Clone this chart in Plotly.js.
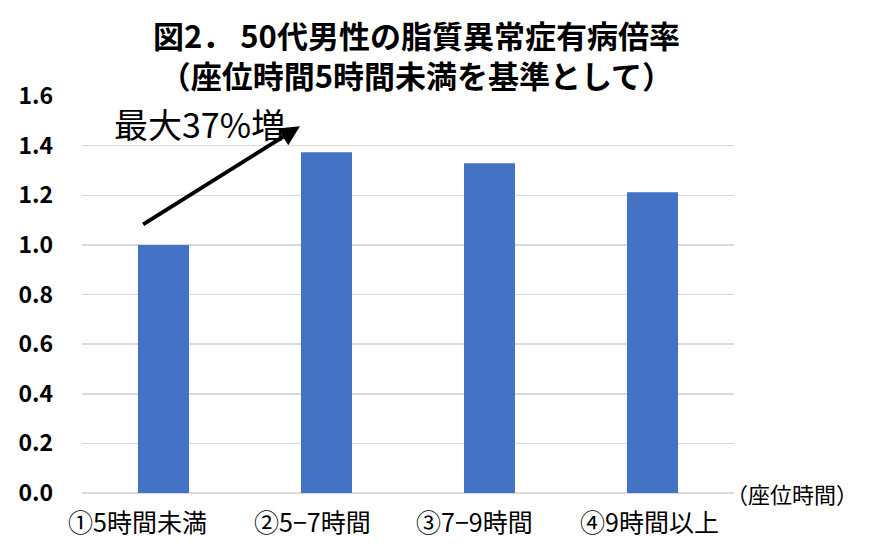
<!DOCTYPE html>
<html>
<head>
<meta charset="utf-8">
<script src="https://cdn.plot.ly/plotly-3.0.1.min.js"></script>
<style>html,body{margin:0;padding:0;background:#fff;}#chart{width:877px;height:552px;}</style>
</head>
<body>
<div id="chart"></div>
<script>
const categories = ["①5時間未満", "②5−7時間", "③7−9時間", "④9時間以上"];
const ratios = [1.0, 1.373, 1.329, 1.212];
const yTicks = [0, 0.2, 0.4, 0.6, 0.8, 1.0, 1.2, 1.4, 1.6];
const titleText = "図2． 50代男性の脂質異常症有病倍率<br>（座位時間5時間未満を基準として）";
const noteText = "最大37%増";
const unitText = "（座位時間）";

const JP = "Noto Sans CJK JP";
// horizontal offsets (px) of category labels as placed in the reference
const labelShift = [-26, -14, -15, -3];

const data = [{
  type: "bar",
  x: categories,
  y: ratios,
  marker: {color: "#4472c4"},
  hoverinfo: "skip"
}];

const annotations = [
  {
    x: 0.513, y: 1, xref: "paper", yref: "paper", yshift: 42,
    text: titleText, showarrow: false, xanchor: "center", yanchor: "middle", align: "center",
    font: {family: JP, size: 31, color: "#000", weight: "bold"}
  },
  {
    x: 0.837, y: 1.478, xref: "x", yref: "y",
    ax: -0.134, ay: 1.079, axref: "x", ayref: "y",
    text: "", showarrow: true,
    arrowhead: 2, arrowsize: 1, arrowwidth: 4, arrowcolor: "#000"
  },
  {
    x: 0.218, y: 1.49, xref: "x", yref: "y",
    text: noteText, showarrow: false,
    xanchor: "center", yanchor: "middle",
    font: {family: JP, size: 34, color: "#000"}
  },
  {
    x: 1, y: 0, xref: "paper", yref: "paper",
    text: unitText, showarrow: false,
    xanchor: "left", yanchor: "middle", xshift: -10,
    font: {family: JP, size: 22, color: "#000"}
  }
];

categories.forEach((c, i) => {
  annotations.push({
    x: c, y: 0, xref: "x", yref: "paper",
    text: c, showarrow: false,
    xanchor: "center", yanchor: "middle",
    xshift: labelShift[i], yshift: -28,
    font: {family: JP, size: 25, color: "#000"}
  });
});

const layout = {
  width: 877, height: 552,
  margin: {l: 82, r: 143, t: 96, b: 59},
  paper_bgcolor: "#fff", plot_bgcolor: "#fff",
  showlegend: false,
  bargap: 0.687,
  xaxis: {
    type: "category",
    range: [-0.5, 3.5],
    showgrid: false, zeroline: false, showline: false,
    showticklabels: false
  },
  yaxis: {
    range: [0, 1.6],
    tickvals: yTicks,
    ticktext: yTicks.map(v => v.toFixed(1)),
    showgrid: true, gridcolor: "#d9d9d9", gridwidth: 1.5,
    zeroline: true, zerolinecolor: "#d9d9d9", zerolinewidth: 1.5,
    showline: false,
    ticklabelstandoff: 28,
    tickfont: {family: JP, size: 23, color: "#000", weight: "bold"}
  },
  annotations: annotations
};

Plotly.newPlot("chart", data, layout, {displayModeBar: false, staticPlot: true});
</script>
</body>
</html>
